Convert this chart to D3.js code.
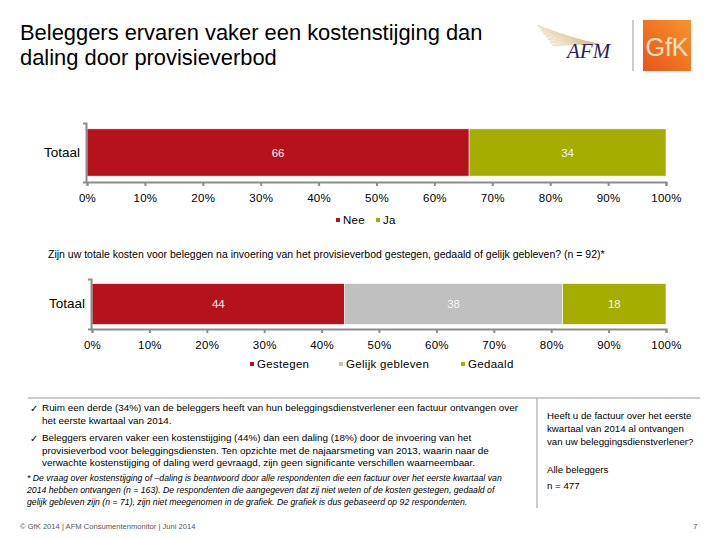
<!DOCTYPE html>
<html><head><meta charset="utf-8">
<script src="https://cdn.jsdelivr.net/npm/d3@7/dist/d3.min.js"></script>
<style>
body{margin:0;background:#fff;}
svg{display:block;font-family:"Liberation Sans",Arial,sans-serif;}
</style></head><body>
<svg id="c" width="720" height="540"></svg>
<script>
// ---- data ----
const titleLines = ["Beleggers ervaren vaker een kostenstijging dan", "daling door provisieverbod"];
const category = ["Totaal"];
const ticks = [0,10,20,30,40,50,60,70,80,90,100];
const series1Names = ["Nee","Ja"];
const series1Values = [66,34];
const series2Names = ["Gestegen","Gelijk gebleven","Gedaald"];
const series2Values = [44,38,18];
const question2 = "Zijn uw totale kosten voor beleggen na invoering van het provisieverbod gestegen, gedaald of gelijk gebleven? (n = 92)*";
const bullets = [
  ["Ruim een derde (34%) van de beleggers heeft van hun beleggingsdienstverlener een factuur ontvangen over","het eerste kwartaal van 2014."],
  ["Beleggers ervaren vaker een kostenstijging (44%) dan een daling (18%) door de invoering van het","provisieverbod voor beleggingsdiensten. Ten opzichte met de najaarsmeting van 2013, waarin naar de","verwachte kostenstijging of daling werd gevraagd, zijn geen significante verschillen waarneembaar."]
];
const footnote = ["* De vraag over kostenstijging of \u2013daling is beantwoord door alle respondenten die een factuur over het eerste kwartaal van","2014 hebben ontvangen (n = 163). De respondenten die aangegeven dat zij niet weten of de kosten gestegen, gedaald of","gelijk gebleven zijn (n = 71), zijn niet meegenomen in de grafiek. De grafiek is dus gebaseerd op 92 respondenten."];
const sideQuestion = ["Heeft u de factuur over het eerste","kwartaal van 2014 al ontvangen","van uw beleggingsdienstverlener?"];
const sideBase = ["Alle beleggers","n = 477"];
const footer = "\u00a9 GfK 2014 | AFM Consumentenmonitor | Juni 2014";
const pageNo = "7";

const colRed = "#b5121b", colGreen = "#a4ad00", colGray = "#c0c0c0";
const colors1 = [colRed, colGreen];
const colors2 = [colRed, colGray, colGreen];
const axisCol = "#8c8c8c";

const svg = d3.select("#c");

// title
svg.append("text").attr("x",20).attr("y",40).attr("font-size",21.9).attr("fill","#000")
  .selectAll("tspan").data(titleLines).join("tspan").attr("x",20).attr("dy",(d,i)=>i?25:0).text(d=>d);

// logos
const logo = svg.append("g");
d3.range(0,14).forEach(i=>{
  logo.append("path")
    .attr("d",`M${537+i*1.2},${25+i*1.6} Q${570},${38+i*0.5} ${598},${44}`)
    .attr("fill","none").attr("stroke","#d9c08a").attr("stroke-width",0.7).attr("opacity",0.8);
});
logo.append("text").attr("x",567).attr("y",58).attr("font-family","Liberation Serif,serif")
  .attr("font-style","italic").attr("font-size",21).attr("fill","#2d1f5e").text("AFM");
logo.append("line").attr("x1",633).attr("x2",633).attr("y1",20).attr("y2",71).attr("stroke","#999").attr("stroke-width",1);
const grad = svg.append("defs").append("linearGradient").attr("id","gfk").attr("x1","0").attr("y1","1").attr("x2","1").attr("y2","0");
grad.append("stop").attr("offset","0").attr("stop-color","#e8541c");
grad.append("stop").attr("offset","1").attr("stop-color","#f7942b");
logo.append("rect").attr("x",643).attr("y",20).attr("width",48).attr("height",51).attr("fill","url(#gfk)");
logo.append("text").attr("x",667).attr("y",56).attr("text-anchor","middle").attr("font-size",25)
  .attr("fill","#fbe3c0").text("GfK");

function stackedChart(names, values, colors, xr, yr, pad, labelPad, legendItems, legendY){
  const g = svg.append("g");
  const x = d3.scaleLinear().domain([0,100]).range(xr);
  const y = d3.scaleBand().domain(category).range(yr).padding(pad);
  let acc = 0;
  const segs = values.map((v,i)=>{const s={name:names[i],v,x0:acc,x1:acc+v,c:colors[i]};acc+=v;return s;});
  g.selectAll("rect.seg").data(segs).join("rect").attr("class","seg")
    .attr("x",d=>x(d.x0)).attr("width",d=>x(d.x1)-x(d.x0))
    .attr("y",y("Totaal")).attr("height",y.bandwidth()).attr("fill",d=>d.c)
    .attr("stroke","#fff").attr("stroke-width",0.6);
  g.selectAll("text.val").data(segs).join("text").attr("class","val")
    .attr("x",d=>x((d.x0+d.x1)/2)).attr("y",y("Totaal")+y.bandwidth()/2).attr("dy","0.35em")
    .attr("text-anchor","middle").attr("font-size",11.5).attr("fill","#f4f4f4").text(d=>d.v);
  const ax = g.append("g").attr("transform",`translate(0,${yr[1]})`)
    .call(d3.axisBottom(x).tickValues(ticks).tickFormat(d=>d+"%").tickSizeInner(4).tickSizeOuter(4).tickPadding(labelPad));
  ax.selectAll("path,line").attr("stroke",axisCol).attr("stroke-width",2);
  ax.selectAll("text").attr("font-size",11.5).attr("fill","#000").attr("font-family","Liberation Sans,Arial,sans-serif").attr("letter-spacing",0.3);
  const ay = g.append("g").attr("transform",`translate(${xr[0]-1},0)`)
    .call(d3.axisLeft(y).tickSizeInner(0).tickSizeOuter(3).tickPadding(6));
  ay.selectAll("path,line").attr("stroke",axisCol).attr("stroke-width",2);
  ay.selectAll("text").attr("font-size",13.5).attr("fill","#000").attr("font-family","Liberation Sans,Arial,sans-serif");
  const lg = g.selectAll("g.lg").data(legendItems).join("g").attr("class","lg")
    .attr("transform",d=>`translate(${d.x},${legendY})`);
  lg.append("rect").attr("x",-2).attr("y",-2).attr("width",4).attr("height",4).attr("fill",(d,i)=>colors[i]);
  lg.append("text").attr("x",5).attr("dy","0.35em").attr("font-size",11.5).attr("letter-spacing",0.3).text(d=>d.name);
}

stackedChart(series1Names, series1Values, colors1, [87,666], [123,182], 0.11, 8,
  [{name:series1Names[0],x:338},{name:series1Names[1],x:378}], 220);

svg.append("text").attr("x",48).attr("y",254).attr("dy","0.35em").attr("font-size",10.5).text(question2);

stackedChart(series2Names, series2Values, colors2, [92,666], [279,329], 0.1, 8,
  [{name:series2Names[0],x:252},{name:series2Names[1],x:341},{name:series2Names[2],x:463}], 364);

// bottom section
svg.append("line").attr("x1",28).attr("x2",700).attr("y1",398).attr("y2",398).attr("stroke","#9a9a9a").attr("stroke-width",1);
svg.append("line").attr("x1",537).attr("x2",537).attr("y1",398).attr("y2",508).attr("stroke","#9a9a9a").attr("stroke-width",1);

const bulletY = [[408,421],[438,451,463]];
bullets.forEach((lines,bi)=>{
  svg.append("text").attr("x",30).attr("y",bulletY[bi][0]).attr("dy","0.35em").attr("font-size",10).text("\u2713");
  lines.forEach((l,li)=>{
    svg.append("text").attr("x",42).attr("y",bulletY[bi][li]).attr("dy","0.35em").attr("font-size",9.9).text(l);
  });
});
const fnY=[478,490,502];
footnote.forEach((l,i)=>{
  svg.append("text").attr("x",27).attr("y",fnY[i]).attr("dy","0.35em").attr("font-size",8.7).attr("font-style","italic").text(l);
});
const sqY=[416,429,442];
sideQuestion.forEach((l,i)=>{
  svg.append("text").attr("x",547).attr("y",sqY[i]).attr("dy","0.35em").attr("font-size",9.7).text(l);
});
const sbY=[470,486];
sideBase.forEach((l,i)=>{
  svg.append("text").attr("x",547).attr("y",sbY[i]).attr("dy","0.35em").attr("font-size",9.7).text(l);
});
svg.append("text").attr("x",20).attr("y",526).attr("dy","0.35em").attr("font-size",7.6).attr("fill","#555").text(footer);
svg.append("text").attr("x",693).attr("y",526).attr("dy","0.35em").attr("font-size",8).attr("fill","#555").text(pageNo);
</script></body></html>
